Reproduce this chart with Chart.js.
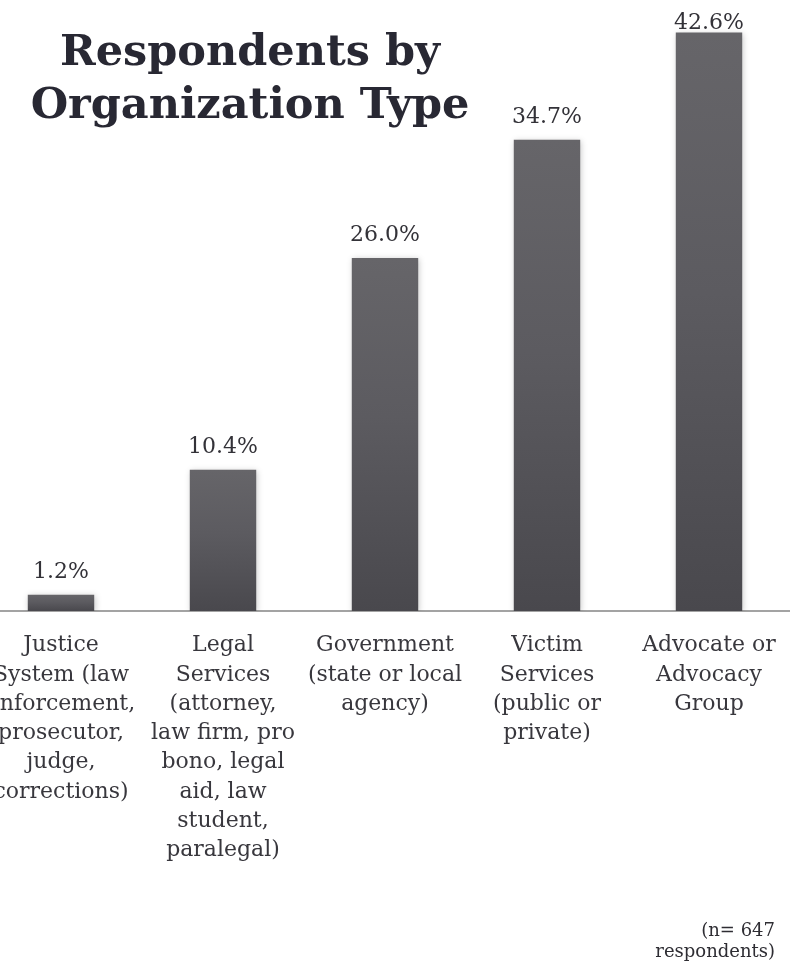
<!DOCTYPE html>
<html>
<head>
<meta charset="utf-8">
<script src="https://cdn.jsdelivr.net/npm/chart.js@4/dist/chart.umd.min.js"></script>
<style>
  html, body { margin: 0; padding: 0; background: #fff; overflow: hidden; }
  #wrap { position: relative; width: 792px; height: 965px; overflow: hidden; }
  #box { position: absolute; left: -20px; top: 0; width: 810px; height: 965px; }
  #title {
    position: absolute; left: 0; top: 24px; width: 500px; text-align: center;
    font-family: "DejaVu Serif", serif; font-weight: bold; font-size: 43px;
    line-height: 53px; color: #282833;
  }
  #note {
    position: absolute; right: 17px; top: 919px; text-align: right;
    font-family: "DejaVu Serif", serif; font-size: 18px; line-height: 21px; color: #2e2d33;
  }
</style>
</head>
<body>
<div id="wrap">
  <div id="box"><canvas id="chart"></canvas></div>
  <div id="title">Respondents by<br>Organization Type</div>
  <div id="note">(n= 647<br>respondents)</div>
</div>
<script>
// categories, wrapped the way the original shows them
const categories = [
  ["Justice", "System (law", "enforcement,", "prosecutor,", "judge,", "corrections)"],
  ["Legal", "Services", "(attorney,", "law firm, pro", "bono, legal", "aid, law", "student,", "paralegal)"],
  ["Government", "(state or local", "agency)"],
  ["Victim", "Services", "(public or", "private)"],
  ["Advocate or", "Advocacy", "Group"]
];
const percents = [1.2, 10.4, 26.0, 34.7, 42.6];

const serif = "'DejaVu Serif', serif";

// light at the top of each bar, darker toward the base
function barFill(ctx) {
  const chart = ctx.chart;
  if (!chart.chartArea || ctx.type !== "data") return "#4c4b50";
  const y = chart.scales.y;
  const top = y.getPixelForValue(percents[ctx.dataIndex]);
  const base = y.getPixelForValue(0);
  const g = chart.ctx.createLinearGradient(0, top, 0, base);
  g.addColorStop(0, "#666569");
  g.addColorStop(0.45, "#5c5b60");
  g.addColorStop(1, "#49484d");
  return g;
}

const barShadow = {
  id: "barShadow",
  beforeDatasetsDraw(chart) {
    const c = chart.ctx;
    c.save();
    c.shadowColor = "rgba(0,0,0,0.22)";
    c.shadowBlur = 6;
    c.shadowOffsetX = 1;
    c.shadowOffsetY = 1;
  },
  afterDatasetsDraw(chart) {
    chart.ctx.restore();
  }
};

const valueLabels = {
  id: "valueLabels",
  afterDatasetsDraw(chart) {
    const c = chart.ctx;
    const meta = chart.getDatasetMeta(0);
    c.save();
    c.font = "22px " + serif;
    c.fillStyle = "#333238";
    c.textAlign = "center";
    c.textBaseline = "alphabetic";
    meta.data.forEach((bar, i) => {
      const y = Math.max(bar.y - 17, 29);
      c.fillText(percents[i].toFixed(1) + "%", bar.x, y);
    });
    c.restore();
  }
};

new Chart(document.getElementById("chart"), {
  type: "bar",
  data: {
    labels: categories,
    datasets: [{
      data: percents,
      backgroundColor: barFill,
      borderWidth: 0,
      barPercentage: 0.41,
      categoryPercentage: 1.0
    }]
  },
  options: {
    responsive: true,
    maintainAspectRatio: false,
    animation: false,
    layout: { padding: 0 },
    plugins: {
      legend: { display: false },
      tooltip: { enabled: false }
    },
    scales: {
      x: {
        grid: { display: false, drawTicks: false },
        border: { display: true, color: "#a3a3a3", width: 2 },
        ticks: {
          autoSkip: false,
          maxRotation: 0,
          minRotation: 0,
          padding: 20,
          color: "#38373d",
          font: { family: serif, size: 22, lineHeight: 1.33 }
        },
        afterFit(scale) {
          // labels run off the left edge in the original, so no extra room
          scale.height = 354;
          scale.paddingLeft = 0;
          scale.paddingRight = 0;
        }
      },
      y: {
        display: false,
        min: 0,
        max: 45
      }
    }
  },
  plugins: [barShadow, valueLabels]
});
</script>
</body>
</html>
